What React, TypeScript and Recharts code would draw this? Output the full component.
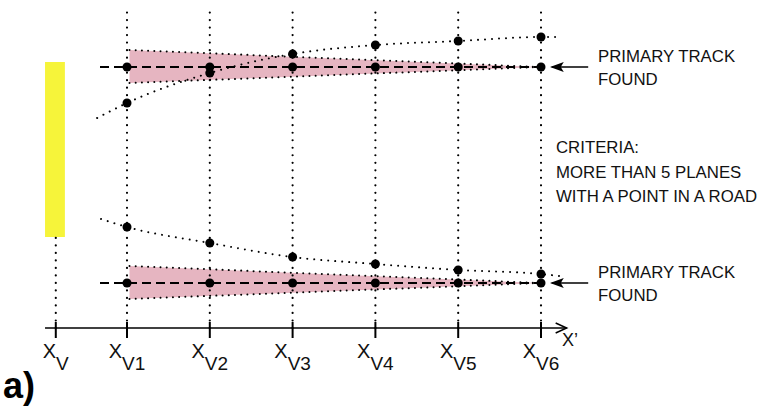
import { ComposedChart, XAxis, YAxis, Line, Area, Scatter, ReferenceLine, ReferenceArea } from 'recharts';

// plane positions along X' (Xv is the vertex plane)
const planeLabels = ['V', 'V1', 'V2', 'V3', 'V4', 'V5', 'V6'];
const planeX = [0.14, 1, 2, 3, 4, 5, 6];
const hitPlanes = [1, 2, 3, 4, 5, 6];

// hits per plane V1..V6
const upperTrackHits = [26.1, 26.1, 26.1, 26.1, 26.1, 26.1];
const upperCurveHits = [22.5, 25.5, 27.4, 28.3, 28.7, 29.1];
const lowerCurveHits = [10.1, 8.5, 7.1, 6.4, 5.8, 5.4];
const lowerTrackHits = [4.5, 4.5, 4.5, 4.5, 4.5, 4.5];

// where the dotted curves run out before V1 and after V6
const upperCurveTails = [[0.64, 21.0], [6.19, 29.1]];
const lowerCurveTails = [[0.686, 10.9], [6.23, 5.2]];

// road (band) opening at V1 and closing on V6
const upperRoad = [[1.03, 24.5, 27.8], [6, 26.1, 26.1]];
const lowerRoad = [[1.03, 2.9, 6.2], [6, 4.5, 4.5]];

const trackStartX = 0.674;
const vertexBox = { x: [0.01, 0.25], y: [9.1, 26.6] };
const planeTop = 31.6;
const axisExtent = [0.01, 6.31];
const arrowExtent = [6.57, 6.13];

const font = '"Liberation Sans", Arial, Helvetica, sans-serif';

const toPts = (ys: number[]) => hitPlanes.map((x, i) => ({ x, y: ys[i] }));
const curve = (ys: number[], tails: number[][]) => [
  { x: tails[0][0], y: tails[0][1] },
  ...toPts(ys),
  { x: tails[1][0], y: tails[1][1] },
];
const road = (r: number[][]) => r.map(([x, lo, hi]) => ({ x, range: [lo, hi] }));
const track = (ys: number[]) => [{ x: trackStartX, y: ys[0] }, ...toPts(ys)];

const allHits = [
  ...toPts(upperTrackHits),
  ...toPts(upperCurveHits),
  ...toPts(lowerCurveHits),
  ...toPts(lowerTrackHits),
];

const PlaneTick = (props: any) => {
  const { x, y, payload } = props;
  const idx = planeX.indexOf(payload.value);
  return (
    <g>
      <line x1={x} x2={x} y1={y - 6} y2={y + 10} stroke="#000" strokeWidth={2} />
      <text x={x} y={y + 30} textAnchor="middle" fontSize={20} fontFamily={font} fill="#111">
        X<tspan dy={12} fontSize={19}>{planeLabels[idx]}</tspan>
      </text>
    </g>
  );
};

const arrowLine = (marker: string) => (p: any) => (
  <line x1={p.x1} y1={p.y1} x2={p.x2} y2={p.y2} stroke="#000" strokeWidth={1.6} markerEnd={`url(#${marker})`} />
);

const dotted = { stroke: '#000', strokeWidth: 2.2, strokeDasharray: '0.01 7.5', strokeLinecap: 'round' as const };

const textStyle = { position: 'absolute' as const, fontFamily: font, fontSize: 16.8, color: '#111', whiteSpace: 'nowrap' as const };

export default function App() {
  return (
    <div style={{ position: 'absolute', left: 0, top: 0, width: 766, height: 408, background: '#fff', overflow: 'hidden' }}>
      <ComposedChart width={766} height={408} margin={{ top: 9, right: 142.2, bottom: 0, left: 44.2 }}>
        <defs>
          <marker id="solidHead" markerWidth={14} markerHeight={10} refX={12} refY={5} orient="auto" markerUnits="userSpaceOnUse">
            <path d="M0,0 L14,5 L0,10 L3,5 Z" fill="#000" />
          </marker>
          <marker id="openHead" markerWidth={14} markerHeight={12} refX={12} refY={6} orient="auto" markerUnits="userSpaceOnUse">
            <path d="M1,1 L12,6 L1,11" fill="none" stroke="#000" strokeWidth={1.5} />
          </marker>
        </defs>
        <XAxis
          dataKey="x"
          type="number"
          domain={[0, 7]}
          ticks={planeX}
          interval={0}
          height={80}
          axisLine={false}
          tickLine={false}
          tickSize={0}
          tickMargin={0}
          tick={<PlaneTick />}
          allowDataOverflow
        />
        <YAxis dataKey="y" type="number" domain={[0, 31.9]} hide width={0} allowDataOverflow />

        <ReferenceArea x1={vertexBox.x[0]} x2={vertexBox.x[1]} y1={vertexBox.y[0]} y2={vertexBox.y[1]} fill="#f6f43a" fillOpacity={1} stroke="none" />

        <Area data={road(upperRoad)} dataKey="range" type="linear" fill="#e6b5c1" fillOpacity={1} {...dotted} strokeWidth={2} strokeDasharray="0.01 6.2" isAnimationActive={false} />
        <Area data={road(lowerRoad)} dataKey="range" type="linear" fill="#e6b5c1" fillOpacity={1} {...dotted} strokeWidth={2} strokeDasharray="0.01 6.2" isAnimationActive={false} />

        <ReferenceLine segment={[{ x: planeX[0], y: 0 }, { x: planeX[0], y: vertexBox.y[0] }]} {...dotted} />
        {hitPlanes.map((p) => (
          <ReferenceLine key={p} segment={[{ x: p, y: 0 }, { x: p, y: planeTop }]} {...dotted} />
        ))}

        <ReferenceLine segment={[{ x: axisExtent[0], y: 0 }, { x: axisExtent[1], y: 0 }]} shape={arrowLine('openHead')} />
        <ReferenceLine segment={[{ x: arrowExtent[0], y: upperTrackHits[5] }, { x: arrowExtent[1], y: upperTrackHits[5] }]} shape={arrowLine('solidHead')} />
        <ReferenceLine segment={[{ x: arrowExtent[0], y: lowerTrackHits[5] }, { x: arrowExtent[1], y: lowerTrackHits[5] }]} shape={arrowLine('solidHead')} />

        <Line data={curve(upperCurveHits, upperCurveTails)} dataKey="y" type="monotone" dot={false} {...dotted} strokeWidth={2} strokeDasharray="0.01 7" isAnimationActive={false} />
        <Line data={curve(lowerCurveHits, lowerCurveTails)} dataKey="y" type="monotone" dot={false} {...dotted} strokeWidth={2} strokeDasharray="0.01 7" isAnimationActive={false} />

        <Line data={track(upperTrackHits)} dataKey="y" type="linear" dot={false} stroke="#000" strokeWidth={1.8} strokeDasharray="9 5" isAnimationActive={false} />
        <Line data={track(lowerTrackHits)} dataKey="y" type="linear" dot={false} stroke="#000" strokeWidth={1.8} strokeDasharray="9 5" isAnimationActive={false} />

        <Scatter data={allHits} fill="#000" isAnimationActive={false} />
      </ComposedChart>

      <div style={{ ...textStyle, left: 562, top: 330, fontSize: 18, lineHeight: '20px' }}>X’</div>
      <div style={{ ...textStyle, left: 598, top: 45, lineHeight: '23px' }}>PRIMARY TRACK<br />FOUND</div>
      <div style={{ ...textStyle, left: 556, top: 136, lineHeight: '24.5px' }}>CRITERIA:<br />MORE THAN 5 PLANES<br />WITH A POINT IN A ROAD</div>
      <div style={{ ...textStyle, left: 598, top: 261, lineHeight: '23px' }}>PRIMARY TRACK<br />FOUND</div>
      <div style={{ ...textStyle, left: 3, top: 366, fontSize: 36, fontWeight: 'bold', lineHeight: '40px', color: '#000' }}>a)</div>
    </div>
  );
}
